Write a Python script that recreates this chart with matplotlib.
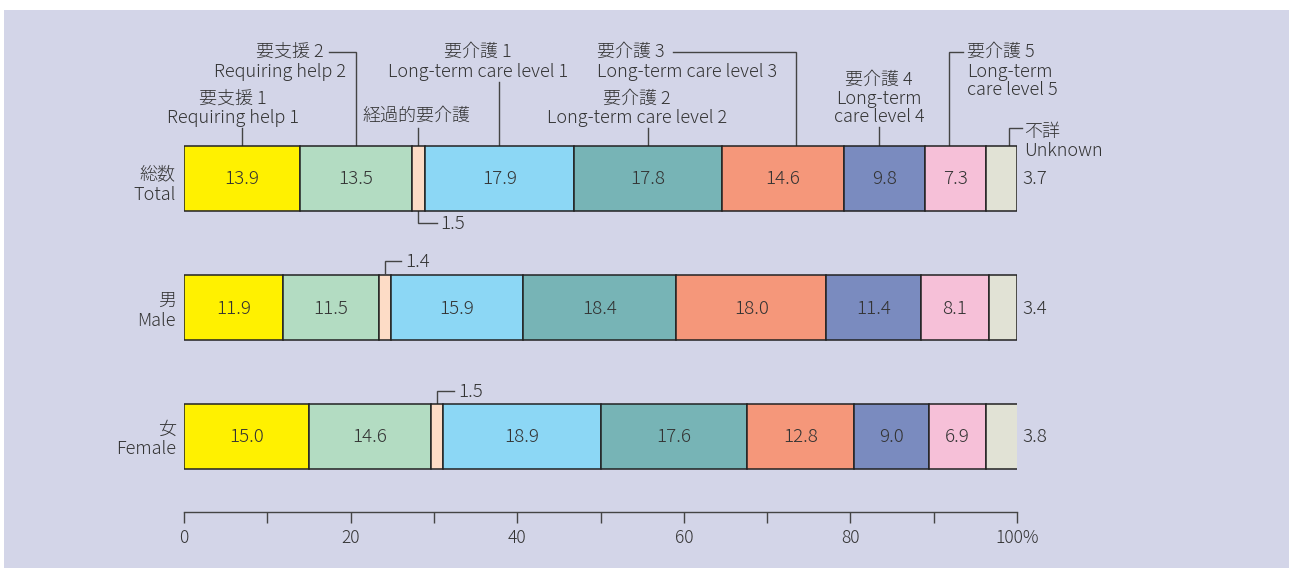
import matplotlib
matplotlib.use("Agg")
import matplotlib.pyplot as plt
from matplotlib.patches import Rectangle
import numpy as np

# ---------------- data ----------------
groups_jp = ["総数", "男", "女"]
groups_en = ["Total", "Male", "Female"]
segments = ["要支援1", "要支援2", "経過的要介護", "要介護1", "要介護2",
            "要介護3", "要介護4", "要介護5", "不詳"]
total_vals = [13.9, 13.5, 1.5, 17.9, 17.8, 14.6, 9.8, 7.3, 3.7]
male_vals = [11.9, 11.5, 1.4, 15.9, 18.4, 18.0, 11.4, 8.1, 3.4]
female_vals = [15.0, 14.6, 1.5, 18.9, 17.6, 12.8, 9.0, 6.9, 3.8]
colors = ["#fff100", "#b3dcc2", "#fddcc6", "#8cd7f5", "#77b4b6",
          "#f5977a", "#7a8bbf", "#f6c0d8", "#e1e2d5"]
xticks = [0, 10, 20, 30, 40, 50, 60, 70, 80, 90, 100]
xticklabels = ["0", "", "20", "", "40", "", "60", "", "80", "", "100%"]

FAM = ["Noto Sans CJK JP", "DejaVu Sans"]
plt.rcParams["font.family"] = FAM
plt.rcParams["font.weight"] = "light"
TXT = "#333333"
LINE = "#444444"

W, H = 1290, 568
fig = plt.figure(figsize=(W / 100, H / 100), dpi=100)
fig.patch.set_facecolor("white")
fig.patches.append(Rectangle((4 / W, 0), (1289 - 4) / W, (H - 10) / H,
                             transform=fig.transFigure, facecolor="#d3d5e8",
                             edgecolor="none", zorder=-10))

# axes: x 0..100 -> px 184..1017 ; y in pixel units (0 top .. 512 axis line)
x0, x1 = 184, 1017
ax = fig.add_axes([x0 / W, (H - 512) / H, (x1 - x0) / W, 512 / H])
ax.set_facecolor("none")
ax.set_xlim(0, 100)
ax.set_ylim(512, 0)
for s in ["top", "right", "left"]:
    ax.spines[s].set_visible(False)
ax.spines["bottom"].set_color(LINE)
ax.spines["bottom"].set_linewidth(1.0)
ax.set_yticks([])
ax.set_xticks(xticks)
ax.set_xticklabels(xticklabels, fontsize=12.5, color=TXT)
ax.tick_params(axis="x", direction="out", length=8, width=1.0, color=LINE, pad=4)

ycent = [178.5, 307.5, 436.5]
bh = 65
all_vals = [total_vals, male_vals, female_vals]
for yi, vals in zip(ycent, all_vals):
    lefts = np.concatenate([[0], np.cumsum(vals)[:-1]])
    ax.barh([yi] * len(vals), vals, left=lefts, height=bh, color=colors,
            edgecolor="#222222", linewidth=1.1, zorder=3)
    for i, (l, v) in enumerate(zip(lefts, vals)):
        if i in (2, 8):
            continue
        ax.text(l + v / 2, yi + 1, f"{v:.1f}", ha="center", va="center",
                fontsize=13.5, color=TXT, zorder=4)
    # unknown value to the right
    ax.text(100.7, yi + 1, f"{vals[-1]:.1f}", ha="left", va="center",
            fontsize=13.5, color=TXT, clip_on=False)

# category labels
for k, (yi, jp, en) in enumerate(zip(ycent, groups_jp, groups_en)):
    dy = 3 if k == 0 else 0
    ax.text(-1.0, yi - 7 + dy, jp, ha="right", va="center", fontsize=13, color=TXT, clip_on=False)
    ax.text(-1.0, yi + 13 + dy, en, ha="right", va="center", fontsize=13, color=TXT, clip_on=False)


def px(xpix):
    return (xpix - x0) / (x1 - x0) * 100


def line(xs, ys):
    ax.plot(xs, ys, color=LINE, lw=1.0, clip_on=False, zorder=2,
            solid_joinstyle="miter")


def txt(x, y, s, ha="center", fs=13):
    ax.text(x, y, s, ha=ha, va="center", fontsize=fs, color=TXT, clip_on=False)


cum = np.concatenate([[0], np.cumsum(total_vals)])
cen = (cum[:-1] + cum[1:]) / 2
top = 146

# 要支援1
txt(px(233), 99, "要支援 1")
txt(px(233), 118, "Requiring help 1")
line([cen[0], cen[0]], [128, top])
# 要支援2
txt(px(324), 52, "要支援 2", ha="right")
txt(px(346), 72, "Requiring help 2", ha="right")
line([px(329), cen[1], cen[1]], [52, 52, top])
# 経過的要介護
txt(px(416), 116, "経過的要介護")
line([cen[2], cen[2]], [128, top])
# 1.5 below
line([cen[2], cen[2], px(437)], [211, 223, 223])
txt(px(440), 224, "1.5", ha="left", fs=13.5)
# 要介護1
txt(px(478), 52, "要介護 1")
txt(px(478), 72, "Long-term care level 1")
line([cen[3], cen[3]], [82, top])
# 要介護2
txt(px(637), 99, "要介護 2")
txt(px(637), 118, "Long-term care level 2")
line([cen[4], cen[4]], [128, top])
# 要介護3
txt(px(597), 52, "要介護 3", ha="left")
txt(px(597), 72, "Long-term care level 3", ha="left")
line([px(673), px(796), px(796)], [52, 52, top])
# 要介護4
txt(px(879), 80, "要介護 4")
txt(px(879), 99, "Long-term")
txt(px(879), 117, "care level 4")
line([px(879), px(879)], [127, top])
# 要介護5
txt(px(967), 52, "要介護 5", ha="left")
txt(px(967), 72, "Long-term", ha="left")
txt(px(967), 90, "care level 5", ha="left")
line([px(949), px(949), px(963)], [top, 52, 52])
# 不詳
line([px(1009), px(1009), px(1022)], [top, 128, 128])
txt(px(1024), 132, "不詳", ha="left")
txt(px(1024), 151, "Unknown", ha="left")

# male 1.4
mc = np.concatenate([[0], np.cumsum(male_vals)])
mx = (mc[2] + mc[3]) / 2
line([mx, mx, px(401)], [273, 261, 261])
txt(px(405), 262, "1.4", ha="left", fs=13.5)
# female 1.5
fc = np.concatenate([[0], np.cumsum(female_vals)])
fx = (fc[2] + fc[3]) / 2
line([fx, fx, px(454)], [403, 391, 391])
txt(px(458), 392, "1.5", ha="left", fs=13.5)

fig.savefig("out.png", dpi=100, facecolor=fig.get_facecolor())
